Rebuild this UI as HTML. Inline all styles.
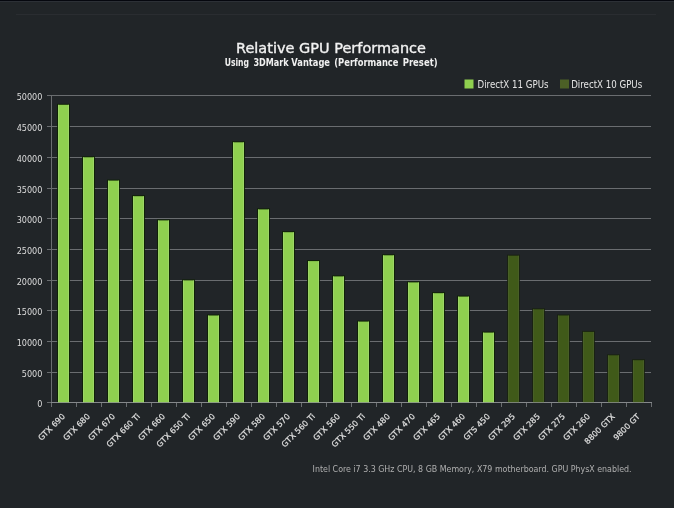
<!DOCTYPE html>
<html><head><meta charset="utf-8"><title>Relative GPU Performance</title>
<style>
html,body{margin:0;padding:0;background:#212528;}
body{width:674px;height:508px;overflow:hidden;}
svg{display:block;will-change:transform;}
text{font-family:"DejaVu Sans Condensed","DejaVu Sans","Liberation Sans",sans-serif;}
.t{font-family:"DejaVu Sans","Liberation Sans",sans-serif;}
</style></head><body>
<svg width="674" height="508" viewBox="0 0 674 508">
<rect x="0" y="0" width="674" height="508" fill="#212528"/>
<rect x="0" y="0" width="674" height="1" fill="#05070e"/>
<rect x="0" y="1" width="674" height="1" fill="#2c3036"/>
<rect x="16" y="14" width="640" height="1" fill="#2a2d31"/>
<rect x="47" y="95" width="604" height="1" fill="#6a6d70"/>
<rect x="47" y="126" width="604" height="1" fill="#6a6d70"/>
<rect x="47" y="157" width="604" height="1" fill="#6a6d70"/>
<rect x="47" y="188" width="604" height="1" fill="#6a6d70"/>
<rect x="47" y="218" width="604" height="1" fill="#6a6d70"/>
<rect x="47" y="249" width="604" height="1" fill="#6a6d70"/>
<rect x="47" y="280" width="604" height="1" fill="#6a6d70"/>
<rect x="47" y="310" width="604" height="1" fill="#6a6d70"/>
<rect x="47" y="341" width="604" height="1" fill="#6a6d70"/>
<rect x="47" y="372" width="604" height="1" fill="#6a6d70"/>
<rect x="47" y="402" width="604" height="1" fill="#6a6d70"/>
<rect x="51" y="95" width="1" height="312" fill="#6a6d70"/>
<rect x="51" y="402" width="1" height="5" fill="#6a6d70"/>
<rect x="76" y="402" width="1" height="5" fill="#6a6d70"/>
<rect x="101" y="402" width="1" height="5" fill="#6a6d70"/>
<rect x="126" y="402" width="1" height="5" fill="#6a6d70"/>
<rect x="151" y="402" width="1" height="5" fill="#6a6d70"/>
<rect x="176" y="402" width="1" height="5" fill="#6a6d70"/>
<rect x="201" y="402" width="1" height="5" fill="#6a6d70"/>
<rect x="226" y="402" width="1" height="5" fill="#6a6d70"/>
<rect x="251" y="402" width="1" height="5" fill="#6a6d70"/>
<rect x="276" y="402" width="1" height="5" fill="#6a6d70"/>
<rect x="301" y="402" width="1" height="5" fill="#6a6d70"/>
<rect x="326" y="402" width="1" height="5" fill="#6a6d70"/>
<rect x="351" y="402" width="1" height="5" fill="#6a6d70"/>
<rect x="376" y="402" width="1" height="5" fill="#6a6d70"/>
<rect x="401" y="402" width="1" height="5" fill="#6a6d70"/>
<rect x="426" y="402" width="1" height="5" fill="#6a6d70"/>
<rect x="451" y="402" width="1" height="5" fill="#6a6d70"/>
<rect x="476" y="402" width="1" height="5" fill="#6a6d70"/>
<rect x="501" y="402" width="1" height="5" fill="#6a6d70"/>
<rect x="526" y="402" width="1" height="5" fill="#6a6d70"/>
<rect x="551" y="402" width="1" height="5" fill="#6a6d70"/>
<rect x="576" y="402" width="1" height="5" fill="#6a6d70"/>
<rect x="601" y="402" width="1" height="5" fill="#6a6d70"/>
<rect x="626" y="402" width="1" height="5" fill="#6a6d70"/>
<rect x="651" y="402" width="1" height="5" fill="#6a6d70"/>
<rect x="57" y="103.8" width="13" height="298.2" fill="#0c2100" opacity="0.85"/>
<rect x="58" y="104.8" width="11" height="297.7" fill="#8fd04f"/>
<rect x="58" y="104.8" width="1" height="297.7" fill="#a6d878" opacity="0.6"/>
<rect x="68" y="104.8" width="1" height="297.7" fill="#a6d878" opacity="0.6"/>
<rect x="82" y="156.3" width="13" height="245.7" fill="#0c2100" opacity="0.85"/>
<rect x="83" y="157.3" width="11" height="245.2" fill="#8fd04f"/>
<rect x="83" y="157.3" width="1" height="245.2" fill="#a6d878" opacity="0.6"/>
<rect x="93" y="157.3" width="1" height="245.2" fill="#a6d878" opacity="0.6"/>
<rect x="107" y="179.6" width="13" height="222.4" fill="#0c2100" opacity="0.85"/>
<rect x="108" y="180.6" width="11" height="221.9" fill="#8fd04f"/>
<rect x="108" y="180.6" width="1" height="221.9" fill="#a6d878" opacity="0.6"/>
<rect x="118" y="180.6" width="1" height="221.9" fill="#a6d878" opacity="0.6"/>
<rect x="132" y="195.2" width="13" height="206.8" fill="#0c2100" opacity="0.85"/>
<rect x="133" y="196.2" width="11" height="206.3" fill="#8fd04f"/>
<rect x="133" y="196.2" width="1" height="206.3" fill="#a6d878" opacity="0.6"/>
<rect x="143" y="196.2" width="1" height="206.3" fill="#a6d878" opacity="0.6"/>
<rect x="157" y="219.4" width="13" height="182.6" fill="#0c2100" opacity="0.85"/>
<rect x="158" y="220.4" width="11" height="182.1" fill="#8fd04f"/>
<rect x="158" y="220.4" width="1" height="182.1" fill="#a6d878" opacity="0.6"/>
<rect x="168" y="220.4" width="1" height="182.1" fill="#a6d878" opacity="0.6"/>
<rect x="182" y="279.4" width="13" height="122.6" fill="#0c2100" opacity="0.85"/>
<rect x="183" y="280.4" width="11" height="122.1" fill="#8fd04f"/>
<rect x="183" y="280.4" width="1" height="122.1" fill="#a6d878" opacity="0.6"/>
<rect x="193" y="280.4" width="1" height="122.1" fill="#a6d878" opacity="0.6"/>
<rect x="207" y="314.5" width="13" height="87.5" fill="#0c2100" opacity="0.85"/>
<rect x="208" y="315.5" width="11" height="87.0" fill="#8fd04f"/>
<rect x="208" y="315.5" width="1" height="87.0" fill="#a6d878" opacity="0.6"/>
<rect x="218" y="315.5" width="1" height="87.0" fill="#a6d878" opacity="0.6"/>
<rect x="232" y="141.3" width="13" height="260.7" fill="#0c2100" opacity="0.85"/>
<rect x="233" y="142.3" width="11" height="260.2" fill="#8fd04f"/>
<rect x="233" y="142.3" width="1" height="260.2" fill="#a6d878" opacity="0.6"/>
<rect x="243" y="142.3" width="1" height="260.2" fill="#a6d878" opacity="0.6"/>
<rect x="257" y="208.4" width="13" height="193.6" fill="#0c2100" opacity="0.85"/>
<rect x="258" y="209.4" width="11" height="193.1" fill="#8fd04f"/>
<rect x="258" y="209.4" width="1" height="193.1" fill="#a6d878" opacity="0.6"/>
<rect x="268" y="209.4" width="1" height="193.1" fill="#a6d878" opacity="0.6"/>
<rect x="282" y="231.2" width="13" height="170.8" fill="#0c2100" opacity="0.85"/>
<rect x="283" y="232.2" width="11" height="170.3" fill="#8fd04f"/>
<rect x="283" y="232.2" width="1" height="170.3" fill="#a6d878" opacity="0.6"/>
<rect x="293" y="232.2" width="1" height="170.3" fill="#a6d878" opacity="0.6"/>
<rect x="307" y="260.1" width="13" height="141.9" fill="#0c2100" opacity="0.85"/>
<rect x="308" y="261.1" width="11" height="141.4" fill="#8fd04f"/>
<rect x="308" y="261.1" width="1" height="141.4" fill="#a6d878" opacity="0.6"/>
<rect x="318" y="261.1" width="1" height="141.4" fill="#a6d878" opacity="0.6"/>
<rect x="332" y="275.4" width="13" height="126.6" fill="#0c2100" opacity="0.85"/>
<rect x="333" y="276.4" width="11" height="126.1" fill="#8fd04f"/>
<rect x="333" y="276.4" width="1" height="126.1" fill="#a6d878" opacity="0.6"/>
<rect x="343" y="276.4" width="1" height="126.1" fill="#a6d878" opacity="0.6"/>
<rect x="357" y="320.6" width="13" height="81.4" fill="#0c2100" opacity="0.85"/>
<rect x="358" y="321.6" width="11" height="80.9" fill="#8fd04f"/>
<rect x="358" y="321.6" width="1" height="80.9" fill="#a6d878" opacity="0.6"/>
<rect x="368" y="321.6" width="1" height="80.9" fill="#a6d878" opacity="0.6"/>
<rect x="382" y="254.3" width="13" height="147.7" fill="#0c2100" opacity="0.85"/>
<rect x="383" y="255.3" width="11" height="147.2" fill="#8fd04f"/>
<rect x="383" y="255.3" width="1" height="147.2" fill="#a6d878" opacity="0.6"/>
<rect x="393" y="255.3" width="1" height="147.2" fill="#a6d878" opacity="0.6"/>
<rect x="407" y="281.4" width="13" height="120.6" fill="#0c2100" opacity="0.85"/>
<rect x="408" y="282.4" width="11" height="120.1" fill="#8fd04f"/>
<rect x="408" y="282.4" width="1" height="120.1" fill="#a6d878" opacity="0.6"/>
<rect x="418" y="282.4" width="1" height="120.1" fill="#a6d878" opacity="0.6"/>
<rect x="432" y="292.2" width="13" height="109.8" fill="#0c2100" opacity="0.85"/>
<rect x="433" y="293.2" width="11" height="109.3" fill="#8fd04f"/>
<rect x="433" y="293.2" width="1" height="109.3" fill="#a6d878" opacity="0.6"/>
<rect x="443" y="293.2" width="1" height="109.3" fill="#a6d878" opacity="0.6"/>
<rect x="457" y="295.6" width="13" height="106.4" fill="#0c2100" opacity="0.85"/>
<rect x="458" y="296.6" width="11" height="105.9" fill="#8fd04f"/>
<rect x="458" y="296.6" width="1" height="105.9" fill="#a6d878" opacity="0.6"/>
<rect x="468" y="296.6" width="1" height="105.9" fill="#a6d878" opacity="0.6"/>
<rect x="482" y="331.6" width="13" height="70.4" fill="#0c2100" opacity="0.85"/>
<rect x="483" y="332.6" width="11" height="69.9" fill="#8fd04f"/>
<rect x="483" y="332.6" width="1" height="69.9" fill="#a6d878" opacity="0.6"/>
<rect x="493" y="332.6" width="1" height="69.9" fill="#a6d878" opacity="0.6"/>
<rect x="507" y="254.7" width="13" height="147.3" fill="#17220e" opacity="0.85"/>
<rect x="508" y="255.7" width="11" height="146.8" fill="#405a19"/>
<rect x="508" y="255.7" width="1" height="146.8" fill="#4f6230" opacity="0.6"/>
<rect x="518" y="255.7" width="1" height="146.8" fill="#4f6230" opacity="0.6"/>
<rect x="532" y="308.3" width="13" height="93.7" fill="#17220e" opacity="0.85"/>
<rect x="533" y="309.3" width="11" height="93.2" fill="#405a19"/>
<rect x="533" y="309.3" width="1" height="93.2" fill="#4f6230" opacity="0.6"/>
<rect x="543" y="309.3" width="1" height="93.2" fill="#4f6230" opacity="0.6"/>
<rect x="557" y="314.5" width="13" height="87.5" fill="#17220e" opacity="0.85"/>
<rect x="558" y="315.5" width="11" height="87.0" fill="#405a19"/>
<rect x="558" y="315.5" width="1" height="87.0" fill="#4f6230" opacity="0.6"/>
<rect x="568" y="315.5" width="1" height="87.0" fill="#4f6230" opacity="0.6"/>
<rect x="582" y="330.9" width="13" height="71.1" fill="#17220e" opacity="0.85"/>
<rect x="583" y="331.9" width="11" height="70.6" fill="#405a19"/>
<rect x="583" y="331.9" width="1" height="70.6" fill="#4f6230" opacity="0.6"/>
<rect x="593" y="331.9" width="1" height="70.6" fill="#4f6230" opacity="0.6"/>
<rect x="607" y="354.3" width="13" height="47.7" fill="#17220e" opacity="0.85"/>
<rect x="608" y="355.3" width="11" height="47.2" fill="#405a19"/>
<rect x="608" y="355.3" width="1" height="47.2" fill="#4f6230" opacity="0.6"/>
<rect x="618" y="355.3" width="1" height="47.2" fill="#4f6230" opacity="0.6"/>
<rect x="632" y="359.2" width="13" height="42.8" fill="#17220e" opacity="0.85"/>
<rect x="633" y="360.2" width="11" height="42.3" fill="#405a19"/>
<rect x="633" y="360.2" width="1" height="42.3" fill="#4f6230" opacity="0.6"/>
<rect x="643" y="360.2" width="1" height="42.3" fill="#4f6230" opacity="0.6"/>
<rect x="51" y="402" width="601" height="1" fill="#9a9ea2" opacity="0.55"/>
<text class="t" x="42.4" y="99.6" font-size="8.1" fill="#dcdcdc" text-anchor="end">50000</text>
<text class="t" x="42.4" y="130.6" font-size="8.1" fill="#dcdcdc" text-anchor="end">45000</text>
<text class="t" x="42.4" y="161.6" font-size="8.1" fill="#dcdcdc" text-anchor="end">40000</text>
<text class="t" x="42.4" y="192.6" font-size="8.1" fill="#dcdcdc" text-anchor="end">35000</text>
<text class="t" x="42.4" y="222.6" font-size="8.1" fill="#dcdcdc" text-anchor="end">30000</text>
<text class="t" x="42.4" y="253.6" font-size="8.1" fill="#dcdcdc" text-anchor="end">25000</text>
<text class="t" x="42.4" y="284.6" font-size="8.1" fill="#dcdcdc" text-anchor="end">20000</text>
<text class="t" x="42.4" y="314.6" font-size="8.1" fill="#dcdcdc" text-anchor="end">15000</text>
<text class="t" x="42.4" y="345.6" font-size="8.1" fill="#dcdcdc" text-anchor="end">10000</text>
<text class="t" x="42.4" y="376.6" font-size="8.1" fill="#dcdcdc" text-anchor="end">5000</text>
<text class="t" x="42.4" y="406.6" font-size="8.1" fill="#dcdcdc" text-anchor="end">0</text>
<text transform="translate(65.5,417) rotate(-45)" class="t" font-size="8" fill="#e0e0e0" stroke="#e0e0e0" stroke-width="0.2" text-anchor="end">GTX 690</text>
<text transform="translate(90.5,417) rotate(-45)" class="t" font-size="8" fill="#e0e0e0" stroke="#e0e0e0" stroke-width="0.2" text-anchor="end">GTX 680</text>
<text transform="translate(115.5,417) rotate(-45)" class="t" font-size="8" fill="#e0e0e0" stroke="#e0e0e0" stroke-width="0.2" text-anchor="end">GTX 670</text>
<text transform="translate(140.5,417) rotate(-45)" class="t" font-size="8" fill="#e0e0e0" stroke="#e0e0e0" stroke-width="0.2" text-anchor="end">GTX 660 Ti</text>
<text transform="translate(165.5,417) rotate(-45)" class="t" font-size="8" fill="#e0e0e0" stroke="#e0e0e0" stroke-width="0.2" text-anchor="end">GTX 660</text>
<text transform="translate(190.5,417) rotate(-45)" class="t" font-size="8" fill="#e0e0e0" stroke="#e0e0e0" stroke-width="0.2" text-anchor="end">GTX 650 Ti</text>
<text transform="translate(215.5,417) rotate(-45)" class="t" font-size="8" fill="#e0e0e0" stroke="#e0e0e0" stroke-width="0.2" text-anchor="end">GTX 650</text>
<text transform="translate(240.5,417) rotate(-45)" class="t" font-size="8" fill="#e0e0e0" stroke="#e0e0e0" stroke-width="0.2" text-anchor="end">GTX 590</text>
<text transform="translate(265.5,417) rotate(-45)" class="t" font-size="8" fill="#e0e0e0" stroke="#e0e0e0" stroke-width="0.2" text-anchor="end">GTX 580</text>
<text transform="translate(290.5,417) rotate(-45)" class="t" font-size="8" fill="#e0e0e0" stroke="#e0e0e0" stroke-width="0.2" text-anchor="end">GTX 570</text>
<text transform="translate(315.5,417) rotate(-45)" class="t" font-size="8" fill="#e0e0e0" stroke="#e0e0e0" stroke-width="0.2" text-anchor="end">GTX 560 Ti</text>
<text transform="translate(340.5,417) rotate(-45)" class="t" font-size="8" fill="#e0e0e0" stroke="#e0e0e0" stroke-width="0.2" text-anchor="end">GTX 560</text>
<text transform="translate(365.5,417) rotate(-45)" class="t" font-size="8" fill="#e0e0e0" stroke="#e0e0e0" stroke-width="0.2" text-anchor="end">GTX 550 Ti</text>
<text transform="translate(390.5,417) rotate(-45)" class="t" font-size="8" fill="#e0e0e0" stroke="#e0e0e0" stroke-width="0.2" text-anchor="end">GTX 480</text>
<text transform="translate(415.5,417) rotate(-45)" class="t" font-size="8" fill="#e0e0e0" stroke="#e0e0e0" stroke-width="0.2" text-anchor="end">GTX 470</text>
<text transform="translate(440.5,417) rotate(-45)" class="t" font-size="8" fill="#e0e0e0" stroke="#e0e0e0" stroke-width="0.2" text-anchor="end">GTX 465</text>
<text transform="translate(465.5,417) rotate(-45)" class="t" font-size="8" fill="#e0e0e0" stroke="#e0e0e0" stroke-width="0.2" text-anchor="end">GTX 460</text>
<text transform="translate(490.5,417) rotate(-45)" class="t" font-size="8" fill="#e0e0e0" stroke="#e0e0e0" stroke-width="0.2" text-anchor="end">GTS 450</text>
<text transform="translate(515.5,417) rotate(-45)" class="t" font-size="8" fill="#e0e0e0" stroke="#e0e0e0" stroke-width="0.2" text-anchor="end">GTX 295</text>
<text transform="translate(540.5,417) rotate(-45)" class="t" font-size="8" fill="#e0e0e0" stroke="#e0e0e0" stroke-width="0.2" text-anchor="end">GTX 285</text>
<text transform="translate(565.5,417) rotate(-45)" class="t" font-size="8" fill="#e0e0e0" stroke="#e0e0e0" stroke-width="0.2" text-anchor="end">GTX 275</text>
<text transform="translate(590.5,417) rotate(-45)" class="t" font-size="8" fill="#e0e0e0" stroke="#e0e0e0" stroke-width="0.2" text-anchor="end">GTX 260</text>
<text transform="translate(615.5,417) rotate(-45)" class="t" font-size="8" fill="#e0e0e0" stroke="#e0e0e0" stroke-width="0.2" text-anchor="end">8800 GTX</text>
<text transform="translate(640.5,417) rotate(-45)" class="t" font-size="8" fill="#e0e0e0" stroke="#e0e0e0" stroke-width="0.2" text-anchor="end">9800 GT</text>
<text class="t" x="236" y="53" font-size="14.5" fill="#f2f2f2" stroke="#f2f2f2" stroke-width="0.35" textLength="190" lengthAdjust="spacingAndGlyphs">Relative GPU Performance</text>
<text x="224.7" y="66" font-size="9.6" font-weight="bold" fill="#f0f0f0" style="font-family:'DejaVu Sans',sans-serif" textLength="24.4" lengthAdjust="spacingAndGlyphs">Using</text>
<text x="253.4" y="66" font-size="9.6" font-weight="bold" fill="#f0f0f0" style="font-family:'DejaVu Sans',sans-serif" textLength="35.3" lengthAdjust="spacingAndGlyphs">3DMark</text>
<text x="291.3" y="66" font-size="9.6" font-weight="bold" fill="#f0f0f0" style="font-family:'DejaVu Sans',sans-serif" textLength="38.7" lengthAdjust="spacingAndGlyphs">Vantage</text>
<text x="334.3" y="66" font-size="9.6" font-weight="bold" fill="#f0f0f0" style="font-family:'DejaVu Sans',sans-serif" textLength="64.2" lengthAdjust="spacingAndGlyphs">(Performance</text>
<text x="402.7" y="66" font-size="9.6" font-weight="bold" fill="#f0f0f0" style="font-family:'DejaVu Sans',sans-serif" textLength="34.9" lengthAdjust="spacingAndGlyphs">Preset)</text>
<rect x="464.5" y="79.5" width="9" height="9" fill="#8fd04f"/>
<text x="477.5" y="88" font-size="9.6" fill="#e6e6e6" textLength="71" lengthAdjust="spacingAndGlyphs">DirectX 11 GPUs</text>
<rect x="560" y="79.5" width="9" height="9" fill="#4c6026"/>
<text x="571.2" y="88" font-size="9.6" fill="#e6e6e6" textLength="71" lengthAdjust="spacingAndGlyphs">DirectX 10 GPUs</text>
<text x="312.6" y="472" font-size="8.2" fill="#b0b0b0" textLength="319" lengthAdjust="spacingAndGlyphs">Intel Core i7 3.3 GHz CPU, 8 GB Memory, X79 motherboard. GPU PhysX enabled.</text>
</svg>
</body></html>
